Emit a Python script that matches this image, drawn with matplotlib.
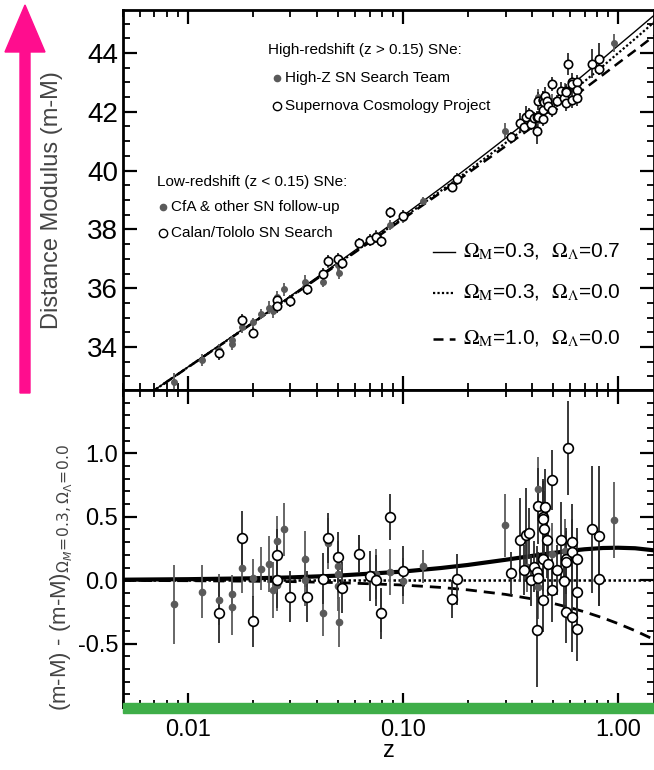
import numpy as np
import matplotlib
matplotlib.use("Agg")
import matplotlib.pyplot as plt
from matplotlib.patches import FancyArrow, Rectangle
from matplotlib.ticker import FixedLocator, FixedFormatter, MultipleLocator, LogLocator, NullFormatter

plt.rcParams["font.family"] = ["Liberation Sans", "DejaVu Sans"]
plt.rcParams["axes.unicode_minus"] = False

# Model curves. Residuals are relative to Omega_M=0.3, Omega_L=0.0
Z_MODEL = [0.005, 0.01, 0.02, 0.03, 0.05, 0.1, 0.15, 0.2, 0.3, 0.4, 0.5, 0.6, 0.7, 0.85, 1.0, 1.2, 1.5]
MU_OPEN = [31.80, 33.31, 34.82, 35.71, 36.84, 38.39, 39.31, 39.98, 40.94, 41.63, 42.19,
           42.65, 43.04, 43.55, 43.99, 44.48, 45.10]
DMU_LAMBDA = [0.004, 0.008, 0.015, 0.022, 0.036, 0.068, 0.096, 0.120, 0.161, 0.192, 0.215,
              0.232, 0.244, 0.254, 0.256, 0.252, 0.234]
DMU_EDS = [-0.002, -0.004, -0.008, -0.011, -0.019, -0.038, -0.057, -0.076, -0.112, -0.148,
           -0.183, -0.217, -0.250, -0.297, -0.342, -0.398, -0.475]

# Low-redshift SNe: CfA & other follow-up (filled)
CFA_Z = [0.00867, 0.0117, 0.0140, 0.0160, 0.0160, 0.0179, 0.0200, 0.0220, 0.0239, 0.0248,
         0.0259, 0.0259, 0.0280, 0.0350, 0.0350, 0.0426, 0.0449, 0.0497, 0.0497, 0.0497,
         0.0504, 0.0626, 0.0749, 0.0787, 0.0870, 0.1003, 0.1234]
CFA_DMU = [-0.19, -0.09, -0.155, -0.11, -0.215, 0.10, 0.02, 0.09, 0.13, -0.08,
           0.31, -0.04, 0.40, 0.17, 0.00, -0.26, 0.29, 0.11, 0.05, -0.045,
           -0.33, 0.21, 0.05, -0.24, 0.065, -0.005, 0.11]
CFA_ERR = [0.31, 0.21, 0.20, 0.15, 0.22, 0.20, 0.15, 0.17, 0.22, 0.22,
           0.20, 0.20, 0.21, 0.22, 0.20, 0.18, 0.20, 0.20, 0.20, 0.20,
           0.20, 0.15, 0.20, 0.17, 0.18, 0.18, 0.13]

# Calan/Tololo (open)
CALAN_Z = [0.0140, 0.0179, 0.0200, 0.0259, 0.0259, 0.0299, 0.0359, 0.0426, 0.0449, 0.0497,
           0.0519, 0.0626, 0.0702, 0.0749, 0.0787, 0.0870, 0.1003]
CALAN_DMU = [-0.255, 0.333, -0.325, 0.20, 0.00, -0.13, -0.13, 0.013, 0.333, 0.18,
             -0.058, 0.21, 0.034, 0.00, -0.26, 0.50, 0.073]
CALAN_ERR = [0.24, 0.21, 0.20, 0.20, 0.22, 0.20, 0.20, 0.20, 0.20, 0.20,
             0.20, 0.15, 0.20, 0.20, 0.20, 0.18, 0.20]

# High-Z SN Search Team (filled)
HZT_Z = [0.298, 0.379, 0.426, 0.426, 0.491, 0.565, 0.613, 0.955]
HZT_DMU = [0.433, 0.108, 0.72, -0.055, 0.205, 0.23, 0.236, 0.475]
HZT_ERR = [0.25, 0.20, 0.25, 0.25, 0.25, 0.25, 0.25, 0.30]

# Supernova Cosmology Project (open)
SCP_Z = [0.170, 0.178, 0.317, 0.350, 0.364, 0.372, 0.387, 0.394, 0.408, 0.4185,
         0.4185, 0.426, 0.426, 0.4465, 0.4465, 0.4465, 0.4465, 0.454, 0.458, 0.469,
         0.474, 0.491, 0.495, 0.522, 0.543, 0.563, 0.573, 0.573, 0.573, 0.583,
         0.613, 0.613, 0.613, 0.648, 0.648, 0.648, 0.754, 0.816, 0.816]
SCP_DMU = [-0.15, 0.008, 0.055, 0.32, 0.08, 0.36, 0.37, 0.00, 0.108, 0.068,
           -0.39, 0.02, 0.585, 0.50, 0.485, 0.165, -0.155, 0.40, 0.58, 0.32,
           0.126, -0.08, 0.79, 0.08, 0.32, -0.01, 0.165, 0.14, -0.247, 1.04,
           0.30, 0.226, -0.294, 0.165, -0.09, -0.386, 0.40, 0.35, 0.013]
SCP_ERR = [0.15, 0.20, 0.17, 0.33, 0.20, 0.37, 0.20, 0.20, 0.20, 0.20,
           0.45, 0.20, 0.30, 0.30, 0.30, 0.25, 0.25, 0.30, 0.30, 0.30,
           0.25, 0.25, 0.24, 0.20, 0.30, 0.25, 0.25, 0.25, 0.25, 0.37,
           0.30, 0.25, 0.27, 0.25, 0.30, 0.25, 0.50, 0.55, 0.22]

GRAY = "#5a5a5a"
PINK = "#ff0d8e"
GREEN = "#3fae49"


def mu_of(z, dmu):
    # SN distance modulus = open-model curve at that z plus its residual
    base = np.interp(np.log10(z), np.log10(Z_MODEL), MU_OPEN)
    return base + np.array(dmu)


def draw_sne(ax, top):
    groups = [(CFA_Z, CFA_DMU, CFA_ERR, True), (CALAN_Z, CALAN_DMU, CALAN_ERR, False),
              (HZT_Z, HZT_DMU, HZT_ERR, True), (SCP_Z, SCP_DMU, SCP_ERR, False)]
    ms_open = 6 if top else 7
    ms_fill = 4 if top else 4.5
    for z, dmu, err, filled in groups:
        y = mu_of(z, dmu) if top else np.array(dmu)
        ax.errorbar(z, y, yerr=err, fmt="none", ecolor=GRAY if filled else "#2a2a2a",
                    elinewidth=1.3, capsize=0, zorder=4)
        if filled:
            ax.plot(z, y, "o", ms=ms_fill, mfc=GRAY, mec=GRAY, zorder=5, ls="none")
        else:
            ax.plot(z, y, "o", ms=ms_open, mfc="white", mec="black", mew=1.2, zorder=6, ls="none")


def style_axis(ax, labelsize):
    ax.set_xscale("log")
    ax.set_xlim(0.005, 1.47)
    ax.xaxis.set_major_locator(FixedLocator([0.01, 0.1, 1.0]))
    ax.xaxis.set_minor_locator(LogLocator(base=10, subs=np.arange(2, 10)))
    ax.xaxis.set_minor_formatter(NullFormatter())
    ax.tick_params(which="both", direction="in", top=True, right=True)
    ax.tick_params(which="major", length=10, width=1.6, labelsize=labelsize)
    ax.tick_params(which="minor", length=5, width=1.3)
    for sp in ax.spines.values():
        sp.set_linewidth(2)


fig = plt.figure(figsize=(6.54, 7.70), dpi=100)
ax1 = fig.add_axes([123 / 654, 1 - 390 / 770, 531 / 654, 380 / 770])
ax2 = fig.add_axes([123 / 654, 1 - 707 / 770, 531 / 654, 317 / 770])

# ---- top: Hubble diagram
style_axis(ax1, 20)
ax1.set_ylim(32.54, 45.46)
ax1.yaxis.set_major_locator(MultipleLocator(2))
ax1.yaxis.set_minor_locator(MultipleLocator(0.5))
ax1.set_xticklabels([])

mu_open = np.array(MU_OPEN)
ax1.plot(Z_MODEL, mu_open + np.array(DMU_LAMBDA), color="black", lw=1.0, zorder=3)
ax1.plot(Z_MODEL, mu_open, color="black", lw=1.6, ls=(0, (1, 1)), zorder=3)
ax1.plot(Z_MODEL, mu_open + np.array(DMU_EDS), color="black", lw=1.8, ls=(0, (4, 2.5)), zorder=3)
draw_sne(ax1, top=True)

tr = ax1.transAxes
ax1.text(0.273, 0.895, "High-redshift (z > 0.15) SNe:", transform=tr, fontsize=11, va="center")
ax1.plot([0.290], [0.821], "o", ms=4.5, mfc=GRAY, mec=GRAY, transform=tr)
ax1.text(0.305, 0.821, "High-Z SN Search Team", transform=tr, fontsize=11, va="center")
ax1.plot([0.290], [0.747], "o", ms=6, mfc="white", mec="black", mew=1.0, transform=tr)
ax1.text(0.305, 0.747, "Supernova Cosmology Project", transform=tr, fontsize=11, va="center")

ax1.text(0.064, 0.547, "Low-redshift (z < 0.15) SNe:", transform=tr, fontsize=11, va="center")
ax1.plot([0.075], [0.482], "o", ms=4.5, mfc=GRAY, mec=GRAY, transform=tr)
ax1.text(0.090, 0.482, "CfA & other SN follow-up", transform=tr, fontsize=11, va="center")
ax1.plot([0.075], [0.413], "o", ms=6, mfc="white", mec="black", mew=1.0, transform=tr)
ax1.text(0.090, 0.413, "Calan/Tololo SN Search", transform=tr, fontsize=11, va="center")

models = [("-", 1.0, r"$\Omega_{\rm M}$=0.3,  $\Omega_{\Lambda}$=0.7", 0.363),
          ((0, (1, 1)), 1.6, r"$\Omega_{\rm M}$=0.3,  $\Omega_{\Lambda}$=0.0", 0.255),
          ((0, (4, 2.5)), 1.8, r"$\Omega_{\rm M}$=1.0,  $\Omega_{\Lambda}$=0.0", 0.134)]
for ls, lw, label, yy in models:
    ax1.plot([0.584, 0.625], [yy, yy], color="black", lw=lw, ls=ls, transform=tr)
    ax1.text(0.640, yy, label, transform=tr, fontsize=15, va="center", math_fontfamily="stix")

# ---- bottom: residuals
style_axis(ax2, 17)
ax2.set_ylim(-1.0, 1.5)
ax2.yaxis.set_major_locator(FixedLocator([-0.5, 0.0, 0.5, 1.0]))
ax2.yaxis.set_major_formatter(FixedFormatter(["-0.5", "0.0", "0.5", "1.0"]))
ax2.yaxis.set_minor_locator(MultipleLocator(0.1))
ax2.xaxis.set_major_formatter(FixedFormatter(["0.01", "0.10", "1.00"]))
ax2.tick_params(axis="x", pad=9)

ax2.plot(Z_MODEL, DMU_LAMBDA, color="black", lw=3.0, zorder=3)
ax2.plot(Z_MODEL, np.zeros(len(Z_MODEL)), color="black", lw=1.8, ls=(0, (1, 1)), zorder=3)
ax2.plot(Z_MODEL, DMU_EDS, color="black", lw=2.0, ls=(0, (4, 2.5)), zorder=3)
draw_sne(ax2, top=False)
ax2.set_xlabel("z", fontsize=17, labelpad=-1)

fig.text(52 / 654, 1 - 200 / 770, "Distance Modulus (m-M)", rotation=90, fontsize=17,
         color="#444444", ha="center", va="center")
fig.text(62 / 654, 1 - 578 / 770,
         r"(m-M) - (m-M)$_{\Omega_{M}\!=\!0.3,\Omega_{\Lambda}\!=\!0.0}$",
         rotation=90, fontsize=16, color="#444444", ha="center", va="center",
         math_fontfamily="dejavusans")

# decorations: pink arrow and green bar
fig.add_artist(FancyArrow(25 / 654, 1 - 393 / 770, 0, (393 - 5) / 770, width=10 / 654,
                          head_width=40 / 654, head_length=47 / 770,
                          length_includes_head=True, color=PINK, transform=fig.transFigure))
fig.add_artist(Rectangle((123 / 654, 1 - 713 / 770), 531 / 654, 10 / 770, color=GREEN,
                         transform=fig.transFigure, zorder=10))

fig.savefig("out.png", dpi=100)
